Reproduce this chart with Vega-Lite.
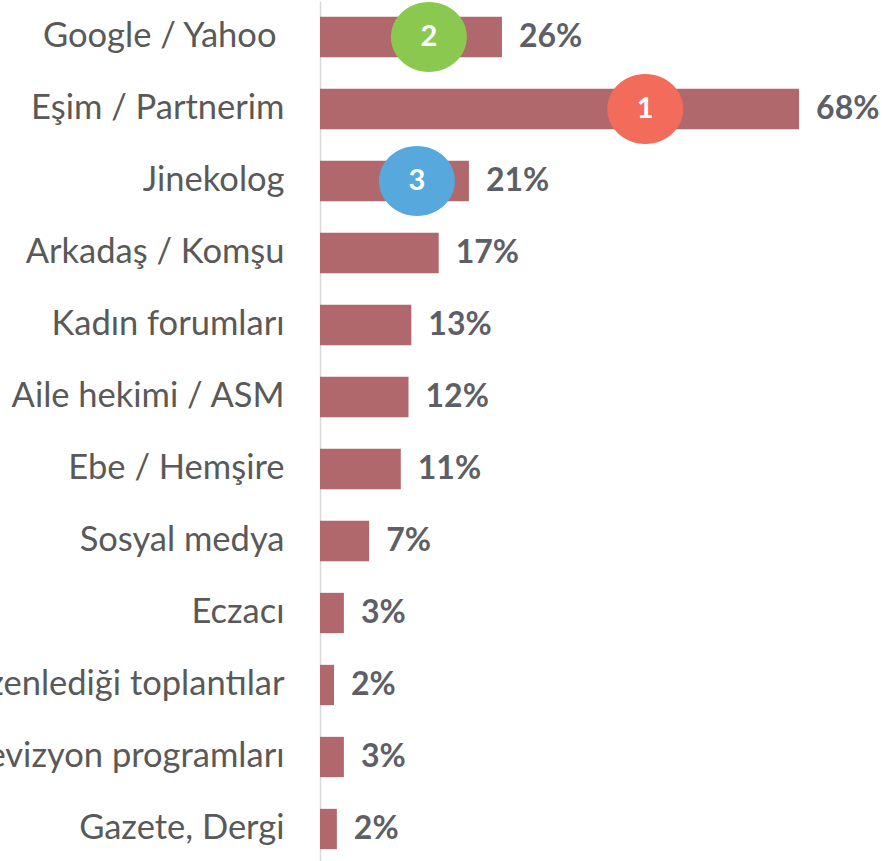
{
  "$schema": "https://vega.github.io/schema/vega-lite/v6.json",
  "width": 562,
  "height": 864,
  "autosize": "none",
  "padding": {"left": 320, "top": 1, "right": 0, "bottom": 0},
  "background": "white",
  "config": {"view": {"stroke": null}},
  "data": {
    "values": [
      {"cat": "Google / Yahoo", "value": 25.9, "label": "26%", "rank": "2", "bx": 15.5},
      {"cat": "Eşim / Partnerim", "value": 68.2, "label": "68%", "rank": "1", "bx": 46.3},
      {"cat": "Jinekolog", "value": 21.2, "label": "21%", "rank": "3", "bx": 13.8},
      {"cat": "Arkadaş / Komşu", "value": 16.9, "label": "17%"},
      {"cat": "Kadın forumları", "value": 13.0, "label": "13%"},
      {"cat": "Aile hekimi / ASM", "value": 12.6, "label": "12%"},
      {"cat": "Ebe / Hemşire", "value": 11.5, "label": "11%"},
      {"cat": "Sosyal medya", "value": 7.0, "label": "7%"},
      {"cat": "Eczacı", "value": 3.4, "label": "3%"},
      {"cat": "Sağlık kurumlarının düzenlediği toplantılar", "value": 2.0, "label": "2%"},
      {"cat": "Televizyon programları", "value": 3.4, "label": "3%"},
      {"cat": "Gazete, Dergi", "value": 2.4, "label": "2%"}
    ]
  },
  "encoding": {
    "y": {
      "field": "cat",
      "type": "nominal",
      "sort": null,
      "scale": {"paddingInner": 0.44, "paddingOuter": 0.22},
      "axis": {
        "title": null,
        "domain": true,
        "domainColor": "#D9D9D9",
        "domainWidth": 1.5,
        "ticks": false,
        "grid": false,
        "labelPadding": {"condition": {"test": "datum.value === 'Google / Yahoo'", "value": 44}, "value": 36},
        "labelFont": "Lato",
        "labelFontSize": 34.5,
        "labelColor": "#595959",
        "labelLimit": 2000
      }
    }
  },
  "layer": [
    {
      "mark": {"type": "bar", "color": "#B0686D"},
      "encoding": {
        "x": {"field": "value", "type": "quantitative", "scale": {"domain": [0, 80]}, "axis": null}
      }
    },
    {
      "mark": {"type": "text", "align": "left", "baseline": "middle", "dx": 17, "font": "Lato", "fontWeight": "bold", "fontSize": 32, "color": "#5E5F66"},
      "encoding": {
        "x": {"field": "value", "type": "quantitative"},
        "text": {"field": "label"}
      }
    },
    {
      "transform": [{"filter": "datum.rank != null"}],
      "mark": {"type": "point", "shape": "M -1 0 A 1 0.92 0 1 1 1 0 A 1 0.92 0 1 1 -1 0 Z", "filled": true, "size": 5776, "opacity": 1},
      "encoding": {
        "x": {"field": "bx", "type": "quantitative"},
        "color": {"field": "rank", "type": "nominal", "scale": {"domain": ["1", "2", "3"], "range": ["#F26B5B", "#8BC84F", "#57A9DD"]}, "legend": null}
      }
    },
    {
      "transform": [{"filter": "datum.rank != null"}],
      "mark": {"type": "text", "align": "center", "baseline": "middle", "font": "Lato", "fontWeight": "bold", "fontSize": 29, "color": "white"},
      "encoding": {
        "x": {"field": "bx", "type": "quantitative"},
        "text": {"field": "rank"}
      }
    }
  ]
}
